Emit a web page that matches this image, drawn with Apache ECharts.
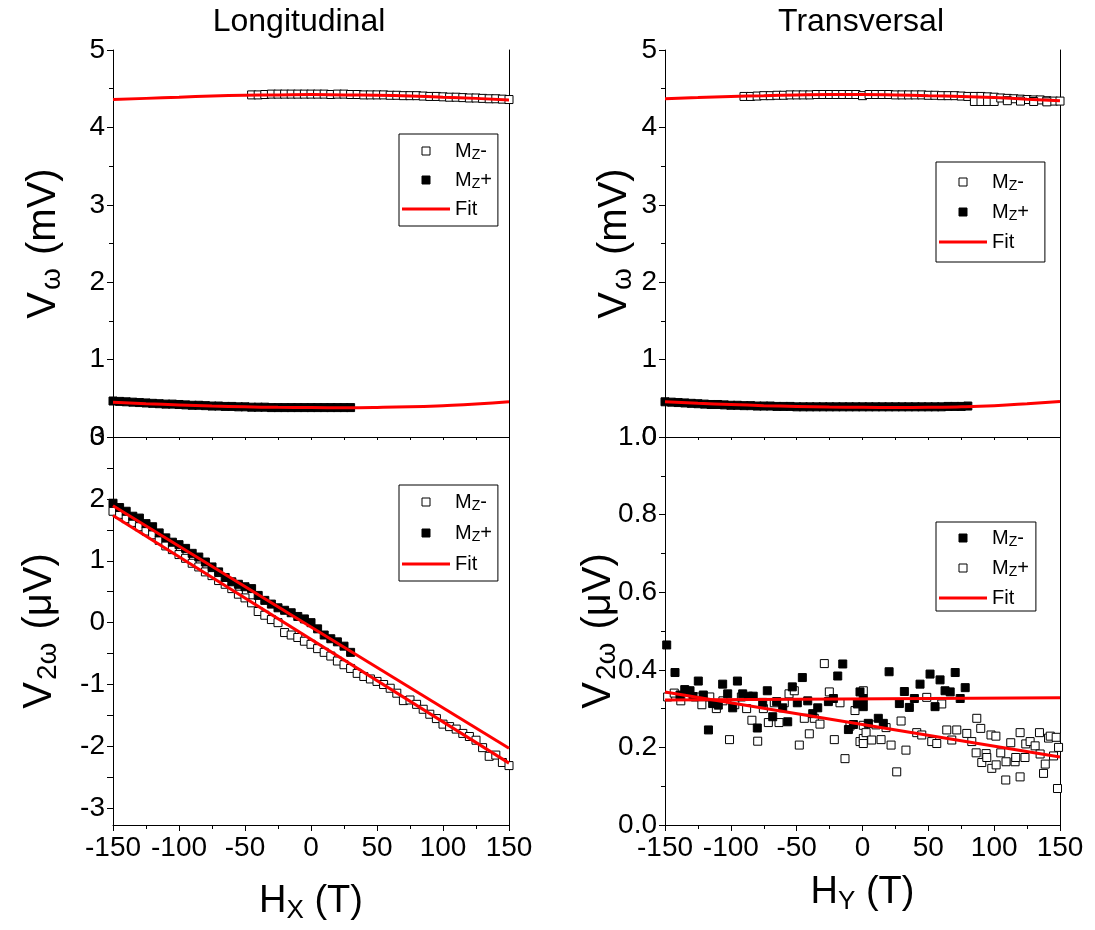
<!DOCTYPE html>
<html>
<head>
<meta charset="utf-8">
<script src="https://cdn.jsdelivr.net/npm/echarts@6/dist/echarts.min.js"></script>
<style>
html,body{margin:0;padding:0;background:#fff;}
#chart{width:1095px;height:930px;}
</style>
</head>
<body>
<div id="chart"></div>
<script>
// ---------- DATA ----------
const xTicks = [-150, -100, -50, 0, 50, 100, 150];
const yTicksTop = [0, 1, 2, 3, 4, 5];
const yTicksBL = [-3, -2, -1, 0, 1, 2, 3];
const yTicksBR = [0, 0.2, 0.4, 0.6, 0.8, 1.0];

// Longitudinal, V_omega (mV)
const tlOpen = [[-45,4.42],[-40,4.42],[-35,4.425],[-30,4.43],[-25,4.43],[-20,4.43],[-15,4.43],[-10,4.43],[-5,4.43],[0,4.43],[5,4.43],[10,4.43],[15,4.425],[20,4.43],[25,4.43],[30,4.425],[35,4.425],[40,4.42],[45,4.42],[50,4.42],[55,4.42],[60,4.415],[65,4.415],[70,4.41],[75,4.41],[80,4.41],[85,4.405],[90,4.40],[95,4.40],[100,4.395],[105,4.39],[110,4.39],[115,4.385],[120,4.38],[125,4.38],[130,4.375],[135,4.37],[140,4.37],[145,4.365],[150,4.36]];
const tlFilled = [[-150,0.465],[-145,0.46],[-140,0.455],[-135,0.45],[-130,0.445],[-125,0.44],[-120,0.435],[-115,0.43],[-110,0.425],[-105,0.425],[-100,0.42],[-95,0.415],[-90,0.41],[-85,0.41],[-80,0.405],[-75,0.40],[-70,0.40],[-65,0.395],[-60,0.395],[-55,0.39],[-50,0.39],[-45,0.385],[-40,0.385],[-35,0.385],[-30,0.38],[-25,0.38],[-20,0.38],[-15,0.38],[-10,0.38],[-5,0.38],[0,0.38],[5,0.38],[10,0.38],[15,0.38],[20,0.38],[25,0.38],[30,0.38]];
const tlFitHigh = [[-150,4.36],[-125,4.375],[-100,4.39],[-75,4.405],[-50,4.415],[-25,4.42],[0,4.425],[25,4.42],[50,4.415],[75,4.405],[100,4.39],[125,4.375],[150,4.355]];
const tlFitLow = [[-150,0.45],[-125,0.43],[-100,0.415],[-75,0.40],[-50,0.39],[-25,0.383],[0,0.38],[25,0.379],[50,0.382],[75,0.39],[100,0.405],[125,0.425],[150,0.455]];

// Longitudinal, V_2omega (uV)
const blFilled = [[-150,1.93],[-145,1.86],[-140,1.80],[-135,1.72],[-130,1.69],[-125,1.60],[-120,1.55],[-115,1.45],[-110,1.37],[-105,1.30],[-100,1.26],[-95,1.20],[-90,1.12],[-85,1.06],[-80,0.98],[-75,0.90],[-70,0.82],[-65,0.73],[-60,0.66],[-55,0.62],[-50,0.58],[-45,0.55],[-40,0.44],[-35,0.36],[-30,0.30],[-25,0.24],[-20,0.20],[-15,0.16],[-10,0.10],[-5,0.06],[0,0.00],[5,-0.10],[10,-0.20],[15,-0.26],[20,-0.31],[25,-0.38],[30,-0.48]];
const blOpen = [[-150,1.80],[-145,1.75],[-140,1.68],[-135,1.62],[-130,1.55],[-125,1.48],[-120,1.42],[-115,1.33],[-110,1.24],[-105,1.18],[-100,1.10],[-95,1.04],[-90,0.96],[-85,0.90],[-80,0.82],[-75,0.76],[-70,0.68],[-65,0.62],[-60,0.55],[-55,0.46],[-50,0.40],[-45,0.32],[-40,0.18],[-35,0.12],[-30,0.05],[-25,0.00],[-20,-0.16],[-15,-0.20],[-10,-0.24],[-5,-0.30],[0,-0.35],[5,-0.42],[10,-0.48],[15,-0.54],[20,-0.62],[25,-0.68],[30,-0.74],[35,-0.82],[40,-0.87],[45,-0.91],[50,-0.95],[55,-1.00],[60,-1.06],[65,-1.14],[70,-1.26],[75,-1.25],[80,-1.32],[85,-1.40],[90,-1.48],[95,-1.55],[100,-1.64],[105,-1.68],[110,-1.72],[115,-1.79],[120,-1.84],[125,-1.90],[130,-2.02],[135,-2.16],[140,-2.14],[145,-2.26],[150,-2.31]];
const blFitHigh = [[-150,1.89],[150,-2.03]];
const blFitLow = [[-150,1.73],[150,-2.27]];

// Transversal, V_omega (mV)
const trOpen = [[-90,4.40],[-85,4.40],[-80,4.405],[-75,4.41],[-70,4.41],[-65,4.415],[-60,4.415],[-55,4.42],[-50,4.42],[-45,4.42],[-40,4.42],[-35,4.425],[-30,4.425],[-25,4.425],[-20,4.425],[-15,4.425],[-10,4.425],[-5,4.425],[0,4.41],[5,4.425],[10,4.425],[15,4.425],[20,4.425],[25,4.42],[30,4.42],[35,4.42],[40,4.42],[45,4.42],[50,4.415],[55,4.415],[60,4.41],[65,4.41],[70,4.41],[75,4.405],[80,4.40],[85,4.40],[90,4.40],[95,4.395],[100,4.39],[85,4.335],[90,4.335],[95,4.335],[100,4.335],[105,4.38],[110,4.375],[115,4.37],[120,4.365],[125,4.36],[130,4.355],[135,4.355],[140,4.345],[145,4.34],[150,4.34],[110,4.345],[120,4.34],[130,4.335],[140,4.33]];
const trFilled = [[-150,0.455],[-145,0.45],[-140,0.445],[-135,0.44],[-130,0.435],[-125,0.43],[-120,0.425],[-115,0.42],[-110,0.42],[-105,0.415],[-100,0.41],[-95,0.41],[-90,0.405],[-85,0.405],[-80,0.40],[-75,0.40],[-70,0.40],[-65,0.395],[-60,0.395],[-55,0.395],[-50,0.39],[-45,0.39],[-40,0.39],[-35,0.39],[-30,0.39],[-25,0.39],[-20,0.39],[-15,0.39],[-10,0.39],[-5,0.39],[0,0.39],[5,0.39],[10,0.39],[15,0.39],[20,0.39],[25,0.39],[30,0.39],[35,0.39],[40,0.39],[45,0.39],[50,0.39],[55,0.39],[60,0.39],[65,0.395],[70,0.395],[75,0.395],[80,0.40]];
const trFitHigh = [[-150,4.37],[-125,4.385],[-100,4.40],[-75,4.41],[-50,4.42],[-25,4.425],[0,4.425],[25,4.42],[50,4.41],[75,4.40],[100,4.385],[125,4.365],[150,4.345]];
const trFitLow = [[-150,0.455],[-125,0.435],[-100,0.42],[-75,0.405],[-50,0.395],[-25,0.388],[0,0.384],[25,0.382],[50,0.383],[75,0.39],[100,0.405],[125,0.43],[150,0.46]];

// Transversal, V_2omega (uV)
const brFilled = [[-148.7,0.464],[-142.4,0.393],[-138.6,0.335],[-135,0.349],[-131,0.346],[-128.7,0.331],[-124.7,0.371],[-120.9,0.335],[-117,0.245],[-113.8,0.313],[-109.5,0.309],[-106.2,0.363],[-102.4,0.338],[-98.6,0.302],[-95,0.371],[-91,0.338],[-86.7,0.332],[-83,0.332],[-79.9,0.25],[-75.8,0.316],[-72.3,0.346],[-68.2,0.279],[-65.2,0.318],[-60.6,0.302],[-56.8,0.266],[-53.3,0.356],[-49.5,0.315],[-45.7,0.380],[-41.6,0.32],[-37.8,0.287],[-34,0.302],[-25.9,0.318],[-22.1,0.326],[-18.8,0.384],[-15,0.415],[-10.7,0.246],[-6.9,0.259],[-3.9,0.312],[-1.9,0.343],[0.6,0.326],[0.6,0.305],[4.4,0.262],[12,0.275],[15.8,0.262],[20.2,0.395],[28,0.313],[31.8,0.344],[35.6,0.303],[39.4,0.326],[43.7,0.363],[51.3,0.389],[55.1,0.305],[58.9,0.374],[62.7,0.346],[66.6,0.343],[70.4,0.393],[74.2,0.326],[78,0.354]];
const brOpen = [[-148,0.33],[-143,0.34],[-138,0.32],[-133,0.345],[-127,0.33],[-122,0.31],[-116,0.33],[-111,0.30],[-106,0.32],[-101,0.22],[-97,0.31],[-92,0.33],[-88,0.30],[-84,0.27],[-79.6,0.216],[-75.3,0.300],[-71.5,0.264],[-67,0.315],[-63.4,0.264],[-59.4,0.315],[-55.8,0.338],[-51.8,0.346],[-48,0.206],[-44.2,0.275],[-40.4,0.235],[-36.6,0.275],[-32.3,0.26],[-29,0.416],[-25.2,0.343],[-21.4,0.220],[-17.1,0.315],[-13.3,0.171],[-9.5,0.255],[-5.7,0.295],[-1.9,0.215],[0.6,0.346],[0.6,0.257],[0.6,0.223],[0.6,0.21],[2.7,0.238],[7,0.219],[10.3,0.258],[14.1,0.220],[17.9,0.251],[21.7,0.206],[26,0.137],[29.3,0.268],[33,0.193],[41.2,0.238],[45,0.232],[48.8,0.329],[52.6,0.215],[56.4,0.21],[60.2,0.312],[64,0.245],[67.8,0.219],[71.6,0.245],[79.2,0.236],[83,0.215],[86.3,0.186],[86.8,0.275],[89.8,0.249],[90.6,0.161],[93.9,0.184],[94.4,0.174],[97.6,0.232],[98.2,0.146],[101.3,0.229],[101.5,0.155],[105,0.186],[108.8,0.116],[109,0.163],[112.6,0.212],[115.9,0.163],[116.4,0.174],[119.7,0.238],[119.7,0.124],[123.4,0.174],[124,0.209],[127.3,0.215],[131.1,0.204],[134.4,0.238],[134.9,0.183],[137.5,0.133],[138.8,0.157],[141.3,0.224],[142.6,0.229],[145.1,0.178],[147.1,0.226],[148.1,0.094],[148.9,0.2]];
const brFitFlat = [[-150,0.322],[150,0.328]];
const brFitSlope = [[-150,0.343],[150,0.175]];

const legendLabels = {
  tlOpen: '{m|M}{z|Z}{m|-}', tlFilled: '{m|M}{z|Z}{m|+}', tlFit: '{m|Fit}',
  blOpen: '{m|M}{z|Z}{m|-}', blFilled: '{m|M}{z|Z}{m|+}', blFit: '{m|Fit}',
  trOpen: '{m|M}{z|Z}{m|-}', trFilled: '{m|M}{z|Z}{m|+}', trFit: '{m|Fit}',
  brFilled: '{m|M}{z|Z}{m|-}', brOpen: '{m|M}{z|Z}{m|+}', brFit: '{m|Fit}'
};

// ---------- CHART ----------
const FONT = '"Liberation Sans", Arial, Helvetica, sans-serif';
const SQUARE = 'path://M0,0h8v8h-8z';
const chart = echarts.init(document.getElementById('chart'), null, {renderer: 'canvas'});

const grids = [
  {left: 113, top: 50, width: 396, height: 387},
  {left: 113, top: 437, width: 396, height: 388},
  {left: 665, top: 50, width: 395, height: 387},
  {left: 665, top: 437, width: 395, height: 388}
];

const labelStyle = {color: '#000', fontSize: 28, fontFamily: FONT};
const xNameStyle = {color: '#000', fontFamily: FONT, fontSize: 38,
  rich: {a: {fontSize: 38, lineHeight: 44, fontFamily: FONT, color: '#000'},
         s: {fontSize: 26, lineHeight: 20, verticalAlign: 'bottom', fontFamily: FONT, color: '#000'}}};
const yNameStyle = {color: '#000', fontFamily: FONT, fontSize: 40,
  rich: {a: {fontSize: 40, lineHeight: 44, fontFamily: FONT, color: '#000'},
         s: {fontSize: 28, lineHeight: 20, verticalAlign: 'bottom', fontFamily: FONT, color: '#000', padding: [0, 2, 0, 2]}}};

function xAxisFor(gi, showLabels, nameText, gap) {
  return {
    type: 'value', gridIndex: gi, position: 'bottom',
    min: xTicks[0], max: xTicks[xTicks.length - 1], interval: 50,
    axisLine: {show: true, onZero: false, lineStyle: {color: '#000', width: 1}},
    axisTick: {show: true, inside: false, length: showLabels ? 6 : 3, lineStyle: {color: '#000'}},
    minorTick: {show: true, splitNumber: 2, length: showLabels ? 4 : 3, lineStyle: {color: '#000'}},
    splitLine: {show: false},
    axisLabel: Object.assign({show: showLabels, margin: 9}, labelStyle),
    name: nameText || '',
    nameLocation: 'middle',
    nameGap: gap || 0,
    nameMoveOverlap: false,
    nameTextStyle: xNameStyle
  };
}

function yAxisLeft(gi, opts) {
  return Object.assign({
    type: 'value', gridIndex: gi, position: 'left',
    axisLine: {show: true, onZero: false, lineStyle: {color: '#000', width: 1}},
    axisTick: {show: true, inside: false, length: 6, lineStyle: {color: '#000'}},
    minorTick: {show: true, splitNumber: 2, length: 4, lineStyle: {color: '#000'}},
    splitLine: {show: false},
    axisLabel: Object.assign({margin: 8}, labelStyle),
    nameLocation: 'middle', nameRotate: 90, nameMoveOverlap: false,
    nameTextStyle: yNameStyle
  }, opts);
}

function yAxisRight(gi, min, max) {
  return {
    type: 'value', gridIndex: gi, position: 'right', min: min, max: max,
    axisLine: {show: true, onZero: false, lineStyle: {color: '#000', width: 1}},
    axisTick: {show: false}, axisLabel: {show: false}, splitLine: {show: false}
  };
}

function scatter(name, data, xi, yi, filled) {
  return {
    type: 'scatter', name: name, xAxisIndex: xi, yAxisIndex: yi, data: data,
    symbol: SQUARE, symbolSize: 8,
    itemStyle: {color: filled ? '#000' : '#fff', borderColor: '#000', borderWidth: 1, opacity: 1},
    emphasis: {disabled: true}, z: filled ? 3 : 2
  };
}

function fit(name, data, xi, yi, smooth) {
  return {
    type: 'line', name: name, xAxisIndex: xi, yAxisIndex: yi, data: data,
    symbol: 'none', smooth: smooth, lineStyle: {color: '#ff0000', width: 3},
    itemStyle: {color: '#ff0000'}, emphasis: {disabled: true}, z: 5
  };
}

function legendItem(name) {
  if (/Fit$/.test(name)) {
    return {name: name, icon: 'path://M0,0h48v3h-48z', itemStyle: {color: '#ff0000', borderWidth: 0, opacity: 1}};
  }
  const filled = /Filled$/.test(name);
  return {name: name, icon: SQUARE,
    itemStyle: {color: filled ? '#000' : '#fff', borderColor: '#000', borderWidth: 1}};
}

function legendFor(names, left, top, padding, gap) {
  return {
    data: names.map(legendItem), left: left, top: top, orient: 'vertical',
    itemWidth: 48, itemHeight: 8, itemGap: gap,
    symbolKeepAspect: true,
    padding: padding,
    borderColor: '#000', borderWidth: 1, borderRadius: 0, backgroundColor: '#fff',
    selectedMode: false,
    formatter: function (n) { return legendLabels[n]; },
    textStyle: {color: '#000', fontFamily: FONT, fontSize: 20,
      rich: {m: {fontSize: 20, lineHeight: 22, fontFamily: FONT, color: '#000'},
             z: {fontSize: 14, lineHeight: 12, verticalAlign: 'bottom', fontFamily: FONT, color: '#000'}}}
  };
}

const option = {
  animation: false,
  backgroundColor: '#fff',
  grid: grids,
  xAxis: [
    xAxisFor(0, false),
    xAxisFor(1, true, '{a|H}{s|X}{a| (T)}', 55),
    xAxisFor(2, false),
    xAxisFor(3, true, '{a|H}{s|Y}{a| (T)}', 46)
  ],
  yAxis: [
    yAxisLeft(0, {min: 0, max: 5, interval: 1, name: '{a|V}{s|ω}{a| (mV)}', nameGap: 47}),
    yAxisLeft(1, {min: -3.27, max: 3, name: '{a|V}{s|2ω}{a| (μV)}', nameGap: 51,
      axisLabel: Object.assign({margin: 8, customValues: yTicksBL}, labelStyle),
      axisTick: {show: true, inside: false, length: 6, lineStyle: {color: '#000'},
        customValues: [-3, -2.5, -2, -1.5, -1, -0.5, 0, 0.5, 1, 1.5, 2, 2.5, 3]},
      minorTick: {show: false}}),
    yAxisLeft(2, {min: 0, max: 5, interval: 1, name: '{a|V}{s|ω}{a| (mV)}', nameGap: 28}),
    yAxisLeft(3, {min: 0, max: 1, interval: 0.2, name: '{a|V}{s|2ω}{a| (μV)}', nameGap: 44,
      axisLabel: Object.assign({margin: 8, formatter: function (v) { return v.toFixed(1); }}, labelStyle)}),
    yAxisRight(0, 0, 5),
    yAxisRight(1, -3.27, 3),
    yAxisRight(2, 0, 5),
    yAxisRight(3, 0, 1)
  ],
  legend: [
    legendFor(['tlOpen', 'tlFilled', 'tlFit'], 399, 134, [7, 6, 7, 3], 8),
    legendFor(['blOpen', 'blFilled', 'blFit'], 399, 485, [7, 6, 7, 3], 10),
    legendFor(['trOpen', 'trFilled', 'trFit'], 936, 162, [10, 16, 10, 3], 9),
    legendFor(['brFilled', 'brOpen', 'brFit'], 936, 522, [6, 7, 3, 3], 9)
  ],
  graphic: [
    {type: 'text', x: 299, y: 22, style: {text: 'Longitudinal', fontSize: 32, fontFamily: FONT, fill: '#000', textAlign: 'center', textVerticalAlign: 'middle'}},
    {type: 'text', x: 861, y: 22, style: {text: 'Transversal', fontSize: 32, fontFamily: FONT, fill: '#000', textAlign: 'center', textVerticalAlign: 'middle'}}
  ],
  series: [
    scatter('tlOpen', tlOpen, 0, 0, false),
    scatter('tlFilled', tlFilled, 0, 0, true),
    fit('tlFit', tlFitHigh, 0, 0, true),
    fit('tlFit', tlFitLow, 0, 0, true),

    scatter('blOpen', blOpen, 1, 1, false),
    scatter('blFilled', blFilled, 1, 1, true),
    fit('blFit', blFitHigh, 1, 1, false),
    fit('blFit', blFitLow, 1, 1, false),

    scatter('trOpen', trOpen, 2, 2, false),
    scatter('trFilled', trFilled, 2, 2, true),
    fit('trFit', trFitHigh, 2, 2, true),
    fit('trFit', trFitLow, 2, 2, true),

    scatter('brOpen', brOpen, 3, 3, false),
    scatter('brFilled', brFilled, 3, 3, true),
    fit('brFit', brFitFlat, 3, 3, false),
    fit('brFit', brFitSlope, 3, 3, false)
  ]
};

chart.setOption(option);
</script>
</body>
</html>
